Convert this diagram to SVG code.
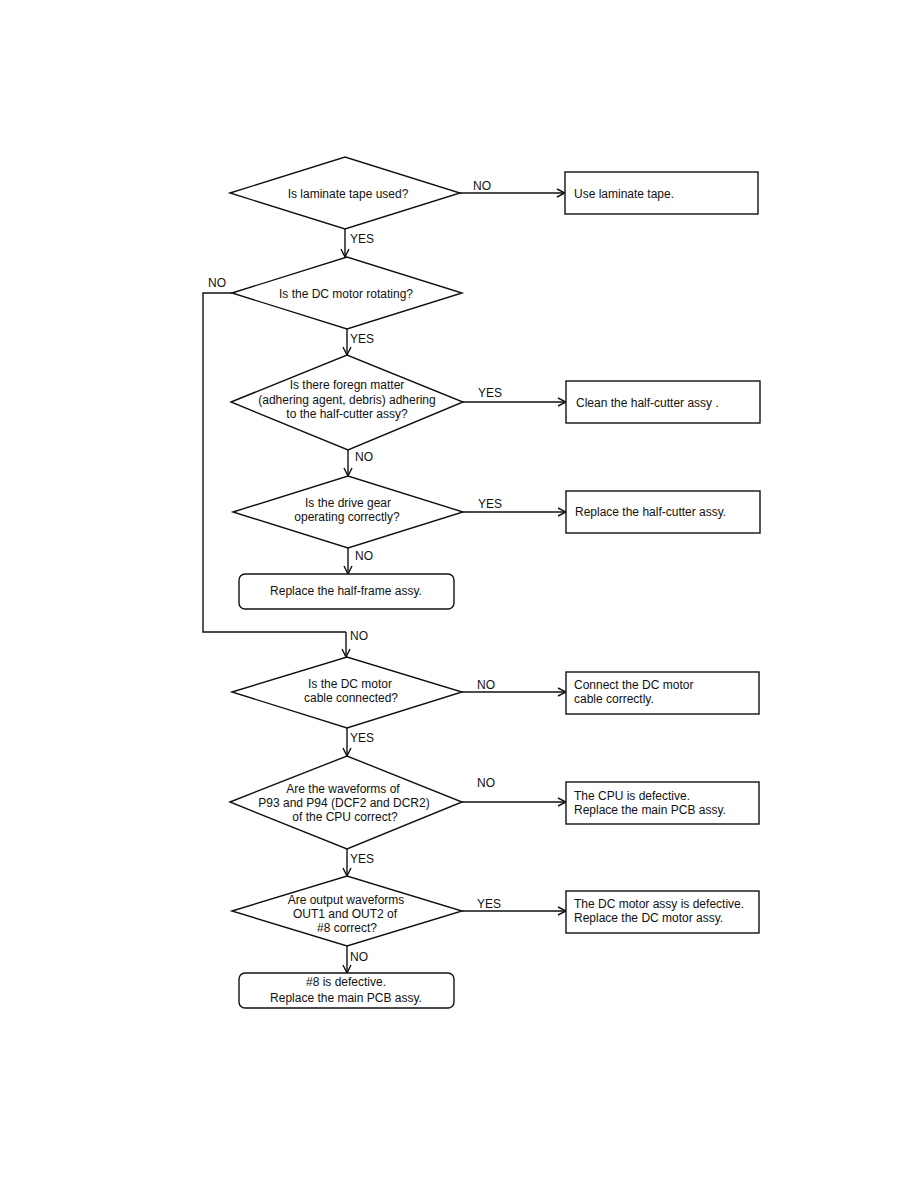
<svg xmlns="http://www.w3.org/2000/svg" width="918" height="1188" viewBox="0 0 918 1188">
<style>
.s{fill:#fff;stroke:#111;stroke-width:1.4}
.c{fill:none;stroke:#111;stroke-width:1.4;marker-end:url(#a)}
.l{fill:none;stroke:#111;stroke-width:1.4}
text{font-family:"Liberation Sans",Arial,sans-serif;font-size:12px;fill:#111}
.m{text-anchor:middle}
</style>
<defs>
<marker id="a" viewBox="0 0 10 10" refX="9" refY="5" markerWidth="10" markerHeight="10" markerUnits="userSpaceOnUse" orient="auto">
<path d="M1,1 L9,5 L1,9" fill="none" stroke="#111" stroke-width="1.4"/>
</marker>
</defs>
<rect width="918" height="1188" fill="#fff"/>
<g id="connectors">
<path class="c" d="M460,193 H565"/>
<path class="c" d="M345,229 V257"/>
<path class="l" d="M232,293 H203 V632 H346"/>
<path class="c" d="M346,632 V657"/>
<path class="c" d="M347,329 V355"/>
<path class="c" d="M463,402 H566"/>
<path class="c" d="M348,450 V476"/>
<path class="c" d="M463,512 H566"/>
<path class="c" d="M348,548 V574"/>
<path class="c" d="M462,692 H566"/>
<path class="c" d="M347,728 V756"/>
<path class="c" d="M462,802 H566"/>
<path class="c" d="M347,849 V876"/>
<path class="c" d="M462,911 H566"/>
<path class="c" d="M347,946 V973"/>
<text x="473" y="190">NO</text>
<text x="350" y="243">YES</text>
<text x="208" y="287">NO</text>
<text x="350" y="343">YES</text>
<text x="478" y="397">YES</text>
<text x="355" y="461">NO</text>
<text x="478" y="508">YES</text>
<text x="355" y="560">NO</text>
<text x="350" y="640">NO</text>
<text x="477" y="689">NO</text>
<text x="350" y="742">YES</text>
<text x="477" y="787">NO</text>
<text x="350" y="863">YES</text>
<text x="477" y="908">YES</text>
<text x="350" y="961">NO</text>
</g>
<g id="d1">
<polygon class="s" points="230,193 345,157 460,193 345,229"/>
<text class="m" x="348" y="198">Is laminate tape used?</text>
</g>
<g id="b1">
<rect class="s" x="565" y="172" width="193" height="42"/>
<text x="574" y="198">Use laminate tape.</text>
</g>
<g id="d2">
<polygon class="s" points="232,293 347,257 462,293 347,329"/>
<text class="m" x="346" y="298">Is the DC motor rotating?</text>
</g>
<g id="d3">
<polygon class="s" points="231,402 347,355 463,402 348,450"/>
<text class="m" x="347" y="389">Is there foregn matter</text>
<text class="m" x="347" y="404">(adhering agent, debris) adhering</text>
<text class="m" x="347" y="418">to the half-cutter assy?</text>
</g>
<g id="b2">
<rect class="s" x="566" y="381" width="194" height="42"/>
<text x="576" y="407">Clean the half-cutter assy .</text>
</g>
<g id="d4">
<polygon class="s" points="233,512 348,476 463,512 348,548"/>
<text class="m" x="348" y="507">Is the drive gear</text>
<text class="m" x="347" y="521">operating correctly?</text>
</g>
<g id="b3">
<rect class="s" x="566" y="491" width="194" height="42"/>
<text x="575" y="516">Replace the half-cutter assy.</text>
</g>
<g id="r1">
<rect class="s" x="239" y="574" width="215" height="35" rx="6"/>
<text class="m" x="346" y="595">Replace the half-frame assy.</text>
</g>
<g id="d5">
<polygon class="s" points="232,692 347,657 462,692 347,728"/>
<text class="m" x="350" y="688">Is the DC motor</text>
<text class="m" x="351" y="702">cable connected?</text>
</g>
<g id="b4">
<rect class="s" x="566" y="672" width="193" height="42"/>
<text x="574" y="689">Connect the DC motor</text>
<text x="574" y="703">cable correctly.</text>
</g>
<g id="d6">
<polygon class="s" points="230,802 347,756 462,802 347,849"/>
<text class="m" x="343" y="793">Are the waveforms of</text>
<text class="m" x="344" y="807">P93 and P94 (DCF2 and DCR2)</text>
<text class="m" x="345" y="821">of the CPU correct?</text>
</g>
<g id="b5">
<rect class="s" x="566" y="782" width="193" height="42"/>
<text x="574" y="800">The CPU is defective.</text>
<text x="574" y="814">Replace the main PCB assy.</text>
</g>
<g id="d7">
<polygon class="s" points="232,911 347,876 462,911 347,946"/>
<text class="m" x="346" y="904">Are output waveforms</text>
<text class="m" x="345" y="918">OUT1 and OUT2 of</text>
<text class="m" x="347" y="932">#8 correct?</text>
</g>
<g id="b6">
<rect class="s" x="566" y="891" width="193" height="42"/>
<text x="574" y="908">The DC motor assy is defective.</text>
<text x="574" y="922">Replace the DC motor assy.</text>
</g>
<g id="r2">
<rect class="s" x="239" y="973" width="215" height="35" rx="6"/>
<text class="m" x="346" y="986">#8 is defective.</text>
<text class="m" x="346" y="1002">Replace the main PCB assy.</text>
</g>
</svg>
